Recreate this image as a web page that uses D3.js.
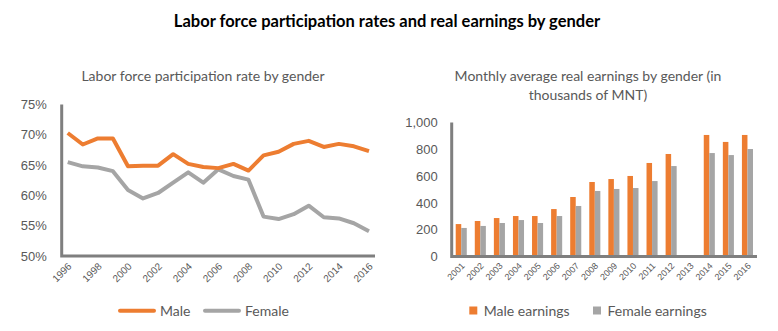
<!DOCTYPE html>
<html lang="en">
<head>
<meta charset="utf-8">
<title>Labor force participation and earnings</title>
<script src="https://d3js.org/d3.v7.min.js"></script>
<style>
  body { margin: 0; background: #fff; }
  svg { display: block; font-family: Lato, "Open Sans", sans-serif; }
  .tick text { fill: #595959; }
</style>
</head>
<body>
<script>
// participation rate, %
var years = [1996, 1997, 1998, 1999, 2000, 2001, 2002, 2003, 2004, 2005, 2006,
             2007, 2008, 2009, 2010, 2011, 2012, 2013, 2014, 2015, 2016];
var maleRate = [70.3, 68.4, 69.4, 69.4, 64.8, 64.9, 64.9, 66.8, 65.2, 64.7, 64.5,
                65.2, 64.1, 66.6, 67.2, 68.5, 69.0, 68.0, 68.5, 68.1, 67.3];
var femaleRate = [65.5, 64.8, 64.6, 64.0, 60.9, 59.5, 60.4, 62.1, 63.8, 62.1, 64.3,
                  63.2, 62.6, 56.5, 56.1, 56.9, 58.3, 56.4, 56.2, 55.4, 54.1];
var rateTicks = [50, 55, 60, 65, 70, 75];

// monthly real earnings, thousands MNT (2013 has no data)
var earnYears = ["2001", "2002", "2003", "2004", "2005", "2006", "2007", "2008",
                 "2009", "2010", "2011", "2012", "2013", "2014", "2015", "2016"];
var maleEarn = [242, 265, 287, 302, 302, 354, 444, 556, 578, 601, 698, 765, null, 907, 855, 907];
var femaleEarn = [213, 228, 250, 272, 250, 302, 377, 489, 504, 511, 563, 675, null, 772, 757, 802];
var earnTicks = [0, 200, 400, 600, 800, 1000];

var orange = "#ED7D31", grey = "#A5A5A5", axisCol = "#7F7F7F", textCol = "#595959";

var svg = d3.select("body").append("svg")
    .attr("width", 778)
    .attr("height", 331);

svg.append("text")
    .attr("x", 387).attr("y", 27)
    .attr("text-anchor", "middle")
    .style("font-weight", "bold").style("font-size", "16.5px")
    .text("Labor force participation rates and real earnings by gender");

// ---------- left: line chart ----------
var x = d3.scalePoint()
    .domain(years)
    .range([61.7, 375])
    .padding(0.4);
var y = d3.scaleLinear()
    .domain([50, 75])
    .range([256, 104.5]);

svg.append("text")
    .attr("x", 203).attr("y", 81)
    .attr("text-anchor", "middle")
    .style("font-size", "14px").style("fill", textCol)
    .text("Labor force participation rate by gender");

var yAx = svg.append("g")
    .attr("transform", "translate(61.7,0)")
    .call(d3.axisLeft(y).tickValues(rateTicks).tickSize(0).tickPadding(15)
        .tickFormat(function (d) { return d + "%"; }));
yAx.select(".domain").remove();
yAx.selectAll("text").style("font-size", "13px");

var xAx = svg.append("g")
    .attr("transform", "translate(0,256)")
    .call(d3.axisBottom(x).tickValues(years.filter(function (d) { return d % 2 == 0; }))
        .tickSize(0));
xAx.select(".domain").remove();
xAx.selectAll("text")
    .style("font-size", "10px")
    .attr("text-anchor", "end")
    .attr("dy", null).attr("y", 0)
    .attr("transform", "translate(4,11) rotate(-45)");

// axis lines
svg.append("path")
    .attr("d", "M61.7,104.5V256H375")
    .attr("fill", "none").attr("stroke", axisCol).attr("stroke-width", 3);

var line = d3.line()
    .x(function (d, i) { return x(years[i]); })
    .y(function (d) { return y(d); });

[[femaleRate, grey], [maleRate, orange]].forEach(function (s) {
    svg.append("path")
        .datum(s[0])
        .attr("d", line)
        .attr("fill", "none")
        .attr("stroke", s[1])
        .attr("stroke-width", 4)
        .attr("stroke-linejoin", "round");
});

// left legend
var legL = [["Male", orange, 120], ["Female", grey, 205]];
legL.forEach(function (l) {
    svg.append("line")
        .attr("x1", l[2]).attr("x2", l[2] + 34)
        .attr("y1", 310.7).attr("y2", 310.7)
        .attr("stroke", l[1]).attr("stroke-width", 4).attr("stroke-linecap", "round");
    svg.append("text")
        .attr("x", l[2] + 40).attr("y", 315.5)
        .style("font-size", "14px").style("fill", textCol)
        .text(l[0]);
});

// ---------- right: bar chart ----------
var xb = d3.scaleBand()
    .domain(earnYears)
    .range([451.7, 757])
    .paddingInner(0.42)
    .paddingOuter(0.21);
var xs = d3.scaleBand()
    .domain(["m", "f"])
    .range([0, xb.bandwidth()]);
var yb = d3.scaleLinear()
    .domain([0, 1000])
    .range([256.5, 122.5]);

var sub = svg.append("text")
    .attr("x", 588).attr("y", 81)
    .attr("text-anchor", "middle")
    .style("font-size", "14px").style("fill", textCol);
sub.append("tspan").attr("x", 588).text("Monthly average real earnings by gender (in");
sub.append("tspan").attr("x", 588).attr("dy", 19).text("thousands of MNT)");

var ybAx = svg.append("g")
    .attr("transform", "translate(451.7,0)")
    .call(d3.axisLeft(yb).tickValues(earnTicks).tickSize(0).tickPadding(14)
        .tickFormat(d3.format(",")));
ybAx.select(".domain").remove();
ybAx.selectAll("text").style("font-size", "13px");

var xbAx = svg.append("g")
    .attr("transform", "translate(0,256.5)")
    .call(d3.axisBottom(xb).tickSize(0));
xbAx.select(".domain").remove();
xbAx.selectAll("text")
    .style("font-size", "9px")
    .attr("text-anchor", "end")
    .attr("dy", null).attr("y", 0)
    .attr("transform", "translate(4,10) rotate(-45)");

var groups = svg.append("g").selectAll("g")
    .data(earnYears)
    .enter().append("g")
    .attr("transform", function (d) { return "translate(" + xb(d) + ",0)"; });

groups.filter(function (d, i) { return maleEarn[i] != null; })
    .append("rect")
    .attr("x", xs("m"))
    .attr("width", xs.bandwidth())
    .attr("y", function (d) { return yb(maleEarn[earnYears.indexOf(d)]); })
    .attr("height", function (d) { return yb(0) - yb(maleEarn[earnYears.indexOf(d)]); })
    .attr("fill", orange);

groups.filter(function (d, i) { return femaleEarn[i] != null; })
    .append("rect")
    .attr("x", xs("f"))
    .attr("width", xs.bandwidth())
    .attr("y", function (d) { return yb(femaleEarn[earnYears.indexOf(d)]); })
    .attr("height", function (d) { return yb(0) - yb(femaleEarn[earnYears.indexOf(d)]); })
    .attr("fill", grey);

svg.append("path")
    .attr("d", "M451.7,122.5V256.5H757")
    .attr("fill", "none").attr("stroke", axisCol).attr("stroke-width", 3);

// right legend
var legR = [["Male earnings", orange, 469.3], ["Female earnings", grey, 593]];
legR.forEach(function (l) {
    svg.append("rect")
        .attr("x", l[2]).attr("y", 306.5)
        .attr("width", 8).attr("height", 8)
        .attr("fill", l[1]);
    svg.append("text")
        .attr("x", l[2] + 14.5).attr("y", 315.5)
        .style("font-size", "14px").style("fill", textCol)
        .text(l[0]);
});
</script>
</body>
</html>
